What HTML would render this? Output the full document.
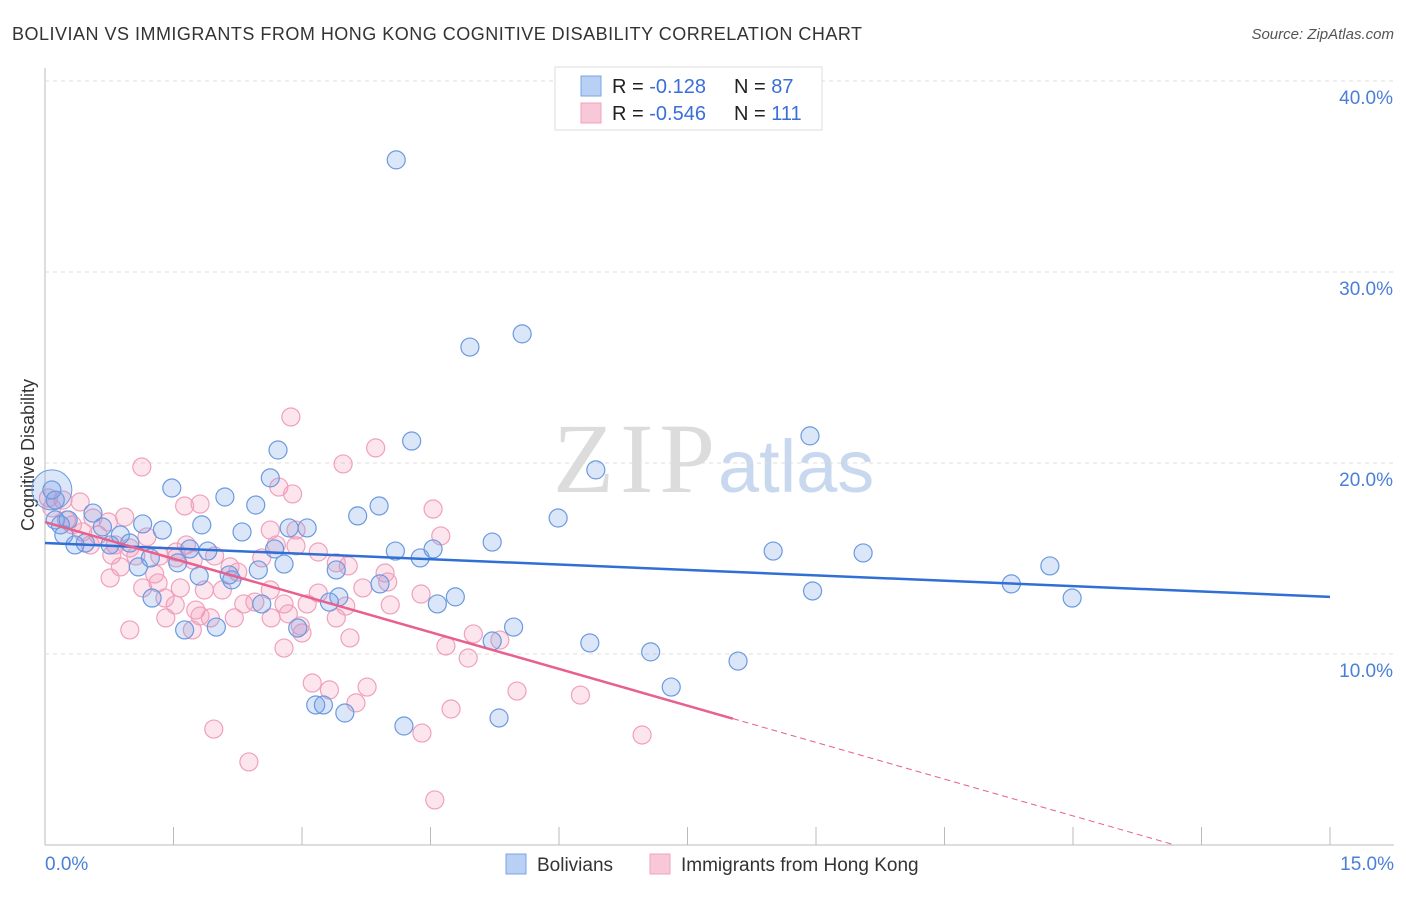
<!DOCTYPE html>
<html><head><meta charset="utf-8"><style>
body{margin:0;background:#fff;font-family:"Liberation Sans",sans-serif;}
svg text{font-family:"Liberation Sans",sans-serif;}
svg text.serif{font-family:"Liberation Serif",serif;}
</style></head><body>
<svg id="chart" width="1406" height="892">
<text x="12" y="40" font-size="18" fill="#333" textLength="850">BOLIVIAN VS IMMIGRANTS FROM HONG KONG COGNITIVE DISABILITY CORRELATION CHART</text>
<text x="1394" y="39" font-size="15" fill="#555" text-anchor="end" font-style="italic">Source: ZipAtlas.com</text>
<text class="serif" x="553" y="492" font-size="100" fill="#dcdcdc" textLength="162">ZIP</text>
<text x="718" y="492" font-size="74" fill="#c8d8ee">atlas</text>
<text x="34" y="455" font-size="18" fill="#333" text-anchor="middle" transform="rotate(-90 34 455)">Cognitive Disability</text>
<g id="grid"></g><g id="marks"></g><g id="lines"></g>
<g>
<rect x="555" y="67" width="267" height="63" fill="#fff" stroke="#ddd"/>
<rect x="581" y="76" width="20" height="20" fill="#b8d0f4" stroke="#7aa4e4"/>
<rect x="581" y="103" width="20" height="20" fill="#f8c8d8" stroke="#f0a0bc"/>
<text x="612" y="93" font-size="20" fill="#222">R = <tspan fill="#3a6fd8"> -0.128</tspan><tspan x="734">N = </tspan><tspan fill="#3a6fd8">87</tspan></text>
<text x="612" y="120" font-size="20" fill="#222">R = <tspan fill="#3a6fd8">-0.546</tspan><tspan x="734">N = </tspan><tspan fill="#3a6fd8">111</tspan></text>
</g>
<g>
<rect x="506" y="854" width="20" height="20" fill="#b8d0f4" stroke="#7aa4e4"/>
<text x="537" y="871" font-size="19" fill="#333">Bolivians</text>
<rect x="650" y="854" width="20" height="20" fill="#f8c8d8" stroke="#f0a0bc"/>
<text x="681" y="871" font-size="19" fill="#333">Immigrants from Hong Kong</text>
</g>
</svg>
<script>
const xTicks=[0,1.5,3,4.5,6,7.5,9,10.5,12,13.5,15];
const yTicks=[10,20,30,40];
const yTickLabels=["10.0%","20.0%","30.0%","40.0%"];
const blueX=[4.10,5.57,4.96,2.72,4.28,8.93,6.43,2.63,1.48,2.10,2.46,3.90,3.65,5.99,1.83,2.30,2.85,3.06,1.37,1.14,0.56,0.67,0.88,0.35,0.47,0.76,0.99,1.23,1.55,1.90,1.69,2.68,4.09,4.38,4.53,5.22,8.50,9.55,2.79,3.40,2.15,2.49,1.09,1.80,2.18,3.91,11.28,11.73,11.99,8.96,3.43,3.32,4.58,4.79,2.53,1.25,1.63,2.00,2.95,5.47,5.22,6.36,7.07,8.09,7.31,3.16,3.25,3.50,4.19,5.30,0.08,0.12,0.18,0.27,0.12,0.22];
const blueY=[35.87,26.76,26.07,20.68,21.15,21.42,19.64,19.22,18.69,18.22,17.80,17.75,17.23,17.12,16.76,16.39,16.60,16.60,16.49,16.81,17.38,16.65,16.23,15.71,15.81,15.71,15.81,15.03,14.77,15.39,15.50,15.50,15.39,15.03,15.50,15.86,15.39,15.29,14.71,14.40,14.14,14.40,14.56,14.08,13.88,13.67,13.67,14.61,12.93,13.30,12.99,12.72,12.62,12.99,12.62,12.93,11.26,11.41,11.36,11.41,10.68,10.58,10.11,9.63,8.27,7.33,7.33,6.91,6.23,6.65,18.59,18.06,16.76,17.02,17.02,16.23];
const pinkX=[2.87,3.86,3.48,1.13,0.41,0.21,2.73,2.89,1.63,1.81,4.53,4.62,0.93,0.74,0.56,0.62,0.82,0.99,1.19,1.34,1.53,1.73,1.98,2.16,2.63,2.70,2.93,3.19,3.40,3.54,3.97,4.00,0.76,0.88,1.14,1.32,1.40,1.58,1.86,2.07,2.32,2.45,2.63,2.79,2.84,2.98,3.06,3.40,3.51,3.71,4.03,4.39,0.99,1.72,1.76,1.93,2.21,2.64,3.00,3.56,2.79,4.68,4.94,5.00,5.31,3.12,3.32,3.63,3.76,4.74,4.40,5.51,6.25,6.97,1.97,2.38,4.55,0.25,0.32,0.04,0.08,0.44,0.53,1.53,1.65,2.53,2.25,3.19,2.93,1.81,1.41,0.78,1.06,1.28,1.52];
const pinkY=[22.41,20.79,19.95,19.79,17.96,18.06,18.74,18.38,17.75,17.85,17.59,16.18,17.17,16.91,17.12,16.23,15.71,15.55,16.13,15.13,15.34,14.92,15.13,14.56,16.49,15.71,15.66,15.34,14.77,14.61,14.24,13.77,13.98,14.56,13.46,13.72,12.93,13.46,13.35,13.35,12.62,12.72,13.35,12.62,12.10,11.47,12.62,11.89,12.51,13.46,12.57,13.14,11.26,11.26,12.30,11.89,11.89,11.89,11.10,10.84,10.31,10.42,9.79,11.05,10.73,8.48,8.12,7.44,8.27,7.12,5.86,8.06,7.85,5.76,6.07,4.35,2.36,17.02,16.76,18.17,17.65,16.39,15.71,15.03,15.71,15.03,14.29,13.19,16.49,11.99,11.89,15.18,15.13,14.19,12.57];
const blueTrend=[15.81,12.99];
const pinkTrend=[16.91,-1.282,8.03];
const NS='http://www.w3.org/2000/svg';
const X0=45,X1=1330,Y0=845,PPY=19.1;
const sx=v=>X0+(v/15)*(X1-X0);
const sy=v=>Y0-v*PPY;
function mk(t,a,p){const e=document.createElementNS(NS,t);for(const k in a)e.setAttribute(k,a[k]);p.appendChild(e);return e;}
const grid=document.getElementById('grid'),marks=document.getElementById('marks'),lines=document.getElementById('lines');
let ax=mk('line',{x1:X0,y1:68,x2:X0,y2:Y0,stroke:'#bbb'},grid);


let bx=mk('line',{x1:X0,y1:Y0,x2:1394,y2:Y0,stroke:'#bbb'},grid);


yTicks.forEach((v,i)=>{
 const g=mk('line',{x1:X0,y1:sy(v),x2:1394,y2:sy(v),stroke:'#ddd','stroke-dasharray':'4,4'},grid);
 
 
 const t=mk('text',{x:1393,y:sy(v)+23,'font-size':19,fill:'#4a7fd8','text-anchor':'end'},grid);
 t.textContent=yTickLabels[i];
 
 
});
xTicks.forEach(v=>{
 const t=mk('line',{x1:sx(v),y1:Y0,x2:sx(v),y2:Y0-18,stroke:'#bbb'},grid);
 
 
});
let l0=mk('text',{x:45,y:870,'font-size':19,fill:'#4a7fd8'},grid);l0.textContent='0.0%';


let l1=mk('text',{x:1394,y:870,'font-size':19,fill:'#4a7fd8','text-anchor':'end'},grid);l1.textContent='15.0%';


function pts(xs,ys,fill,stroke,name){xs.forEach((x,i)=>{
 const c=mk('circle',{cx:sx(x),cy:sy(ys[i]),r:9,fill:fill,stroke:stroke,'stroke-width':1.2},marks);
 
 
});}
pts(pinkX,pinkY,'rgba(242,150,182,0.25)','#f0a0bc','point-hongkong');
pts(blueX,blueY,'rgba(110,155,230,0.25)','#6a9ae0','point-bolivian');
let big=mk('circle',{cx:sx(blueX[70]),cy:sy(blueY[70]),r:20,fill:'rgba(110,155,230,0.25)',stroke:'#6a9ae0'},marks);


let bt=mk('line',{x1:sx(0),y1:sy(blueTrend[0]),x2:sx(15),y2:sy(blueTrend[1]),stroke:'#2f6fd6','stroke-width':2.5},lines);


const pe=pinkTrend[2],pz=-pinkTrend[0]/pinkTrend[1];
let pt=mk('line',{x1:sx(0),y1:sy(pinkTrend[0]),x2:sx(pe),y2:sy(pinkTrend[0]+pinkTrend[1]*pe),stroke:'#e8608e','stroke-width':2.5},lines);


let pd=mk('line',{x1:sx(pe),y1:sy(pinkTrend[0]+pinkTrend[1]*pe),x2:sx(pz),y2:sy(0),stroke:'#e8608e','stroke-width':1,'stroke-dasharray':'6,4'},lines);


</script>
</body></html>
